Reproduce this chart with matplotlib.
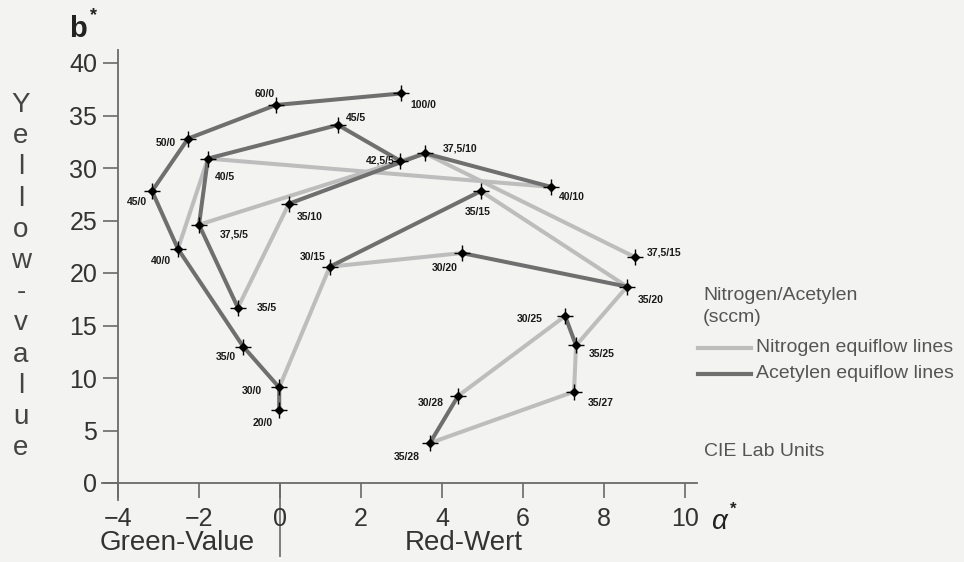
import numpy as np
import matplotlib
matplotlib.use("Agg")
import matplotlib.pyplot as plt
from matplotlib.lines import Line2D

plt.rcParams['font.family'] = ['Liberation Sans', 'DejaVu Sans']

# Data: coating colour in CIE Lab (a*, b*) for nitrogen/acetylene flows (sccm)
point_labels = ["100/0", "60/0", "50/0", "45/0", "40/0", "35/0", "30/0", "20/0",
                "45/5", "40/5", "42,5/5", "37,5/5", "35/5",
                "37,5/10", "35/10", "40/10",
                "30/15", "35/15", "37,5/15",
                "30/20", "35/20",
                "30/25", "35/25", "35/27", "30/28", "35/28"]
a_star = [2.99, -0.10, -2.27, -3.16, -2.52, -0.91, -0.02, -0.02,
          1.43, -1.78, 2.96, -2.00, -1.04,
          3.58, 0.22, 6.69,
          1.23, 4.96, 8.77,
          4.49, 8.57,
          7.04, 7.31, 7.26, 4.40, 3.70]
b_star = [37.1, 36.0, 32.8, 27.8, 22.3, 13.0, 9.1, 7.0,
          34.1, 30.9, 30.7, 24.6, 16.7,
          31.4, 26.6, 28.2,
          20.6, 27.8, 21.5,
          21.9, 18.7,
          15.9, 13.1, 8.7, 8.3, 3.8]

# lines of constant acetylene flow (dark)
acetylen_lines = [
    ["100/0", "60/0", "50/0", "45/0", "40/0", "35/0", "30/0", "20/0"],
    ["35/5", "37,5/5", "40/5", "45/5", "42,5/5"],
    ["35/10", "37,5/10", "40/10"],
    ["30/15", "35/15"],
    ["30/20", "35/20"],
    ["30/25", "35/25"],
    ["30/28", "35/28"],
]
# lines of constant nitrogen flow (light)
nitrogen_lines = [
    ["30/0", "30/15", "30/20"],
    ["30/25", "30/28"],
    ["35/5", "35/10"],
    ["35/15", "35/20", "35/25", "35/27", "35/28"],
    ["37,5/5", "37,5/10", "37,5/15"],
    ["40/0", "40/5", "40/10"],
]

# label offsets in pixels (dx, dy)
label_offsets = {
    "100/0": (22, -12), "60/0": (-11, 11), "50/0": (-22, -4), "45/0": (-15, -11),
    "40/0": (-17, -12), "35/0": (-17, -10), "30/0": (-27, -4), "20/0": (-17, -13),
    "45/5": (18, 7), "40/5": (17, -18), "42,5/5": (-20, 0), "37,5/5": (35, -10),
    "35/5": (29, 0), "37,5/10": (35, 5), "35/10": (21, -13), "40/10": (21, -10),
    "30/15": (-17, 10), "35/15": (-3, -21), "37,5/15": (29, 5), "30/20": (-17, -15),
    "35/20": (24, -13), "30/25": (-35, -3), "35/25": (26, -9), "35/27": (27, -11),
    "30/28": (-27, -7), "35/28": (-23, -14),
}

W, H = 964, 562
PX_PER_A, PX_PER_B = 40.5, 10.5
X0, Y0 = 280, 483  # pixel position of a*=0, b*=0

fig = plt.figure(figsize=(W / 100, H / 100), dpi=100)
fig.patch.set_facecolor('#f3f3f2')
ax = fig.add_axes([0, 0, 1, 1])
ax.set_facecolor('#f3f3f2')
ax.set_xlim(-X0 / PX_PER_A, (W - X0) / PX_PER_A)
ax.set_ylim((Y0 - H) / PX_PER_B, Y0 / PX_PER_B)

pos = {lab: (a, b) for lab, a, b in zip(point_labels, a_star, b_star)}

light = '#bdbdbd'
dark = '#6f6f6f'
for seq in nitrogen_lines:
    ax.plot([pos[s][0] for s in seq], [pos[s][1] for s in seq],
            color=light, lw=2.9, solid_capstyle='round', zorder=2)
for seq in acetylen_lines:
    ax.plot([pos[s][0] for s in seq], [pos[s][1] for s in seq],
            color=dark, lw=2.9, solid_capstyle='round', zorder=3)

ax.plot(a_star, b_star, 'D', color='black', ms=4.5, zorder=5)
ax.plot(a_star, b_star, '+', color='black', ms=11, mew=1.0, zorder=5)

for lab in point_labels:
    dx, dy = label_offsets[lab]
    ax.annotate(lab, pos[lab], xytext=(dx, dy), textcoords='offset pixels',
                ha='center', va='center', fontsize=7.5, weight='bold',
                color='#1a1a1a', zorder=6)

# axes drawn like the scan: y axis at a*=-4, x axis at b*=0
for side in ['top', 'right']:
    ax.spines[side].set_visible(False)
ax.spines['left'].set_position(('data', -4))
ax.spines['bottom'].set_position(('data', 0))
ax.spines['left'].set_bounds((Y0 - 500) / PX_PER_B, (Y0 - 50) / PX_PER_B)
ax.spines['bottom'].set_bounds((102 - X0) / PX_PER_A, (697 - X0) / PX_PER_A)
for side in ['left', 'bottom']:
    ax.spines[side].set_color('#6a6a6a')
    ax.spines[side].set_linewidth(1.3)
    ax.spines[side].set_zorder(1)

ax.set_xticks(np.arange(-4, 11, 2))
ax.set_yticks(np.arange(0, 41, 5))
ax.tick_params(axis='y', direction='out', length=11, width=1.2, color='#6a6a6a',
               pad=4, labelsize=18, labelcolor='#333333')
ax.tick_params(axis='x', direction='out', length=11, width=1.2, color='#6a6a6a',
               pad=6, labelsize=18, labelcolor='#333333')

# separator below zero
ax.vlines(0, (Y0 - 557) / PX_PER_B, 0, color='#6a6a6a', lw=1.2, zorder=1)

def fx(px):
    return px / W

def fy(py):
    return 1 - py / H

txt = '#333333'
fig.text(fx(100), fy(543), "Green-Value", fontsize=20, color=txt, ha='left', va='center')
fig.text(fx(405), fy(543), "Red-Wert", fontsize=20, color=txt, ha='left', va='center')
fig.text(fx(78), fy(29), "b", fontsize=21, color='#222222', weight='bold', ha='center', va='center')
fig.text(fx(93), fy(16), "*", fontsize=13, color='#222222', weight='bold', ha='center', va='center')
fig.text(fx(719), fy(522), "α", fontsize=20, color='#222222', style='italic', ha='center', va='center')
fig.text(fx(733), fy(509), "*", fontsize=12, color='#222222', weight='bold', ha='center', va='center')
fig.text(fx(704), fy(451), "CIE Lab Units", fontsize=14, color='#555555', ha='left', va='center')

for i, ch in enumerate("Yellow-value"):
    fig.text(fx(21), fy(105 + i * 31.2), ch, fontsize=20, color='#444444',
             ha='center', va='center')

# legend, laid out by hand like the scan
leg_col = '#555555'
fig.text(fx(703), fy(295), "Nitrogen/Acetylen", fontsize=14, color=leg_col, ha='left', va='center')
fig.text(fx(703), fy(318), "(sccm)", fontsize=14, color=leg_col, ha='left', va='center')
for py, col, name in [(348, light, "Nitrogen equiflow lines"),
                      (374, dark, "Acetylen equiflow lines")]:
    fig.add_artist(Line2D([fx(698), fx(751)], [fy(py), fy(py)], color=col, lw=3.0,
                          transform=fig.transFigure))
    fig.text(fx(756), fy(py), name, fontsize=14, color=leg_col, ha='left', va='center')

fig.savefig("out.png", dpi=100, facecolor=fig.get_facecolor())
